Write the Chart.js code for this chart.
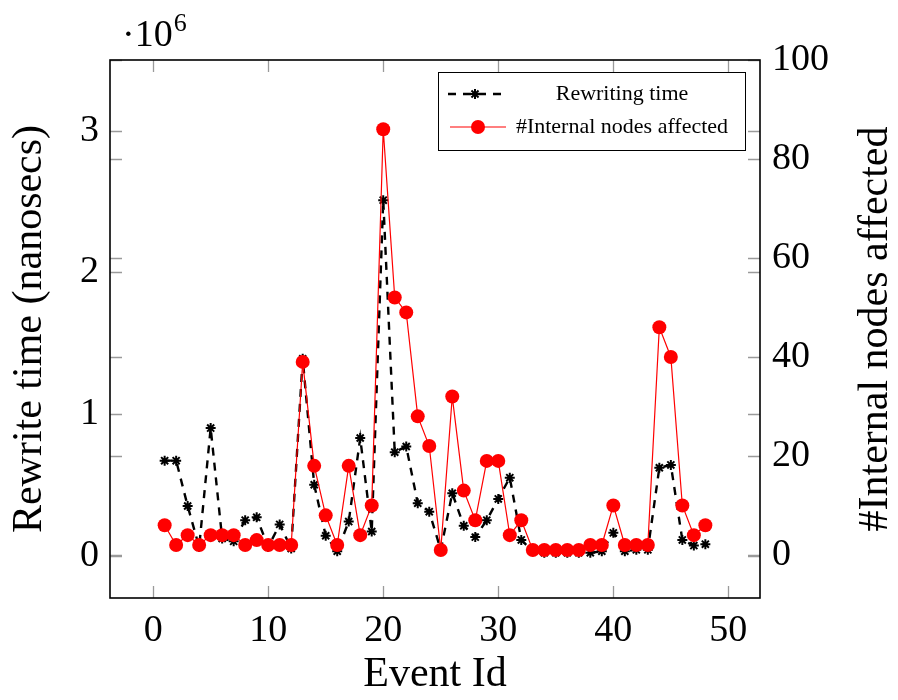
<!DOCTYPE html>
<html>
<head>
<meta charset="utf-8">
<script src="https://cdn.jsdelivr.net/npm/chart.js@4/dist/chart.umd.min.js"></script>
<style>
  html, body { margin: 0; padding: 0; background: #fff; }
  #wrap { width: 898px; height: 700px; }
</style>
</head>
<body>
<div id="wrap"><canvas id="c" width="898" height="700"></canvas></div>
<script>
// ---- data ----
const eventIds = [1,2,3,4,5,6,7,8,9,10,11,12,13,14,15,16,17,18,19,20,21,22,23,24,25,26,27,28,29,30,31,32,33,34,35,36,37,38,39,40,41,42,43,44,45,46,47,48];
const rewriteTime = [670000,670000,350000,60000,900000,120000,100000,250000,270000,60000,220000,50000,
  1390000,500000,140000,30000,240000,830000,170000,2510000,730000,770000,370000,310000,
  40000,440000,210000,130000,250000,400000,550000,110000,30000,20000,20000,20000,
  20000,20000,30000,160000,30000,40000,40000,620000,640000,110000,70000,80000];
const internalNodes = [6,2,4,2,4,4,4,2,3,2,2,2,39,18,8,2,18,4,10,86,52,49,28,22,
  1,32,13,7,19,19,4,7,1,1,1,1,1,2,2,10,2,2,2,46,40,10,4,6];
const xTicks = [0,10,20,30,40,50];
const leftTicks = [0,1,2,3];          // ×10^6
const rightTicks = [0,20,40,60,80,100];
const seriesNames = ['Rewriting time', '#Internal nodes affected'];
const axisTitles = { x: 'Event Id', y: 'Rewrite time (nanosecs)', y2: '#Internal nodes affected' };
const scaleExponent = '6';

const FONT = '"Liberation Serif", "Times New Roman", serif';

const decor = {
  id: 'decor',
  beforeDatasetsDraw(chart) {
    const {ctx, chartArea: a, scales} = chart;
    ctx.save();
    ctx.strokeStyle = '#9a9a9a';
    ctx.lineWidth = 1.3;
    const L = 12;
    ctx.beginPath();
    scales.x.ticks.forEach(t => {
      const px = Math.round(scales.x.getPixelForValue(t.value)) + 0.5;
      ctx.moveTo(px, a.bottom); ctx.lineTo(px, a.bottom - L);
      ctx.moveTo(px, a.top); ctx.lineTo(px, a.top + L);
    });
    [scales.y, scales.y2].forEach(s => {
      s.ticks.forEach(t => {
        const py = Math.round(s.getPixelForValue(t.value)) + 0.5;
        ctx.moveTo(a.left, py); ctx.lineTo(a.left + L, py);
        ctx.moveTo(a.right, py); ctx.lineTo(a.right - L, py);
      });
    });
    ctx.stroke();
    ctx.restore();
  },
  afterDatasetsDraw(chart) {
    const {ctx, chartArea: a} = chart;
    ctx.save();
    // frame
    ctx.strokeStyle = '#000';
    ctx.lineWidth = 1.6;
    ctx.strokeRect(a.left, a.top, a.right - a.left, a.bottom - a.top);
    // legend
    const bx = 438, by = 72, bw = 307, bh = 78;
    ctx.fillStyle = '#fff';
    ctx.fillRect(bx, by, bw, bh);
    ctx.lineWidth = 1;
    ctx.strokeRect(bx + 0.5, by + 0.5, bw, bh);
    const ds = chart.data.datasets;
    // entry 1: dashed black with star
    let y = 94;
    ctx.strokeStyle = '#000';
    ctx.lineWidth = 2.4;
    ctx.setLineDash([8, 7]);
    ctx.beginPath(); ctx.moveTo(448, y); ctx.lineTo(502, y); ctx.stroke();
    ctx.setLineDash([]);
    ctx.lineWidth = 2;
    ctx.beginPath();
    const cx = 475, r = 5;
    for (let k = 0; k < 4; k++) {
      const ang = k * Math.PI / 4;
      ctx.moveTo(cx - r * Math.cos(ang), y - r * Math.sin(ang));
      ctx.lineTo(cx + r * Math.cos(ang), y + r * Math.sin(ang));
    }
    ctx.stroke();
    ctx.fillStyle = '#000';
    ctx.font = '22px ' + FONT;
    ctx.textAlign = 'center';
    ctx.textBaseline = 'middle';
    ctx.fillText(ds[0].label, 622, y);
    // entry 2: red line with circle
    y = 127;
    ctx.strokeStyle = '#ff0000';
    ctx.lineWidth = 1.2;
    ctx.beginPath(); ctx.moveTo(450, y); ctx.lineTo(506, y); ctx.stroke();
    ctx.fillStyle = '#ff0000';
    ctx.beginPath(); ctx.arc(478, y, 7, 0, Math.PI * 2); ctx.fill();
    ctx.fillStyle = '#000';
    ctx.fillText(ds[1].label, 622, y);
    ctx.restore();
  },
  afterDraw(chart) {
    const {ctx, chartArea: a} = chart;
    ctx.save();
    ctx.fillStyle = '#000';
    // multiplier label
    ctx.font = '38px ' + FONT;
    ctx.textAlign = 'left';
    ctx.textBaseline = 'alphabetic';
    ctx.fillText('\u00b710', 122, 46);
    const w = ctx.measureText('\u00b710').width;
    ctx.font = '26px ' + FONT;
    ctx.fillText(scaleExponent, 122 + w + 1, 31);
    // right axis title (reads bottom to top)
    ctx.font = '42px ' + FONT;
    ctx.textAlign = 'center';
    ctx.textBaseline = 'middle';
    ctx.translate(876, (a.top + a.bottom) / 2);
    ctx.rotate(-Math.PI / 2);
    ctx.fillText(axisTitles.y2, 0, 0);
    ctx.restore();
  }
};

const tickFont = { family: FONT, size: 38 };
const titleFont = { family: FONT, size: 42 };

new Chart(document.getElementById('c'), {
  type: 'line',
  data: {
    datasets: [
      {
        label: seriesNames[0],
        data: eventIds.map((e, i) => ({ x: e, y: rewriteTime[i] })),
        yAxisID: 'y',
        order: 1,
        borderColor: '#000',
        borderWidth: 2.4,
        borderDash: [8, 7],
        pointStyle: 'star',
        pointRadius: 5,
        pointBorderWidth: 2,
        pointBorderColor: '#000',
        pointBackgroundColor: '#000',
        fill: false,
        tension: 0
      },
      {
        label: seriesNames[1],
        data: eventIds.map((e, i) => ({ x: e, y: internalNodes[i] })),
        yAxisID: 'y2',
        order: 0,
        borderColor: '#ff0000',
        borderWidth: 1.2,
        pointStyle: 'circle',
        pointRadius: 7,
        pointBorderWidth: 0,
        pointBackgroundColor: '#ff0000',
        pointBorderColor: '#ff0000',
        fill: false,
        tension: 0
      }
    ]
  },
  options: {
    responsive: false,
    devicePixelRatio: 1,
    animation: false,
    layout: { padding: { top: 60, left: 0, right: 0, bottom: 0 } },
    plugins: { legend: { display: false }, tooltip: { enabled: false } },
    scales: {
      x: {
        type: 'linear',
        min: -3.75, max: 52.75,
        grid: { display: false, drawTicks: false, tickLength: 0 },
        border: { display: false },
        afterBuildTicks: s => { s.ticks = xTicks.map(v => ({ value: v })); },
        ticks: { font: tickFont, color: '#000', padding: 10, maxRotation: 0, autoSkip: false },
        title: { display: true, text: axisTitles.x, font: titleFont, color: '#000', padding: { top: 0, bottom: 0 } },
        afterFit: s => { s.height = 102; }
      },
      y: {
        type: 'linear',
        position: 'left',
        min: -300000, max: 3500000,
        grid: { display: false, drawTicks: false, tickLength: 0 },
        border: { display: false },
        afterBuildTicks: s => { s.ticks = leftTicks.map(v => ({ value: v * 1e6 })); },
        ticks: { font: tickFont, color: '#000', padding: 11, callback: v => String(v / 1e6) },
        title: { display: true, text: axisTitles.y, font: titleFont, color: '#000', padding: { top: 5, bottom: 0 } },
        afterFit: s => { s.width = 110; }
      },
      y2: {
        type: 'linear',
        position: 'right',
        min: -8.7, max: 100,
        grid: { display: false, drawTicks: false, tickLength: 0 },
        border: { display: false },
        afterBuildTicks: s => { s.ticks = rightTicks.map(v => ({ value: v })); },
        ticks: { font: tickFont, color: '#000', padding: 12 },
        title: { display: false },
        afterFit: s => { s.width = 138; }
      }
    }
  },
  plugins: [decor]
});
</script>
</body>
</html>
